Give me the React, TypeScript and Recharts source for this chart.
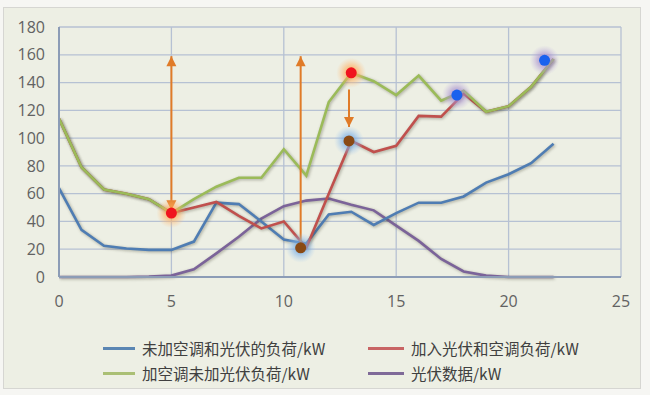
import React from "react";
import { ComposedChart, Line, Scatter, XAxis, YAxis, CartesianGrid, ReferenceLine } from "recharts";

// ---- data ----
const hours = [0, 1, 2, 3, 4, 5, 6, 7, 8, 9, 10, 11, 12, 13, 14, 15, 16, 17, 18, 19, 20, 21, 22];
const loadNoAcNoPv = [64, 34, 22.5, 20.5, 19.5, 19.5, 25.5, 53.5, 52.5, 40, 27, 24, 45, 47, 37.5, 46, 53.5, 53.5, 58, 68, 74, 82, 96];
const loadPvAc = [114, 79, 63, 60, 56, 46, 50, 54, 44, 35, 40, 21, 60, 98, 90, 94.5, 116, 115.5, 132, 119, 123, 137, 157];
const loadAcNoPv = [114, 79, 63, 60, 56, 46, 56, 65, 71.5, 71.5, 92, 73, 126, 147, 141, 131, 145, 127, 134, 119, 123, 137, 157];
const pvData = [0, 0, 0, 0, 0.3, 1, 5.5, 17, 29, 42, 51, 55, 56.5, 52, 48, 37, 26, 13, 4, 1, 0, 0, 0];

const seriesNames = ["未加空调和光伏的负荷/kW", "加入光伏和空调负荷/kW", "加空调未加光伏负荷/kW", "光伏数据/kW"];
const seriesKeys = ["a", "b", "c", "d"];
const seriesColors = ["#4F7DB3", "#C0504D", "#9BBB59", "#7B6399"];
const legendColors = ["#5B86B3", "#C86464", "#AABF74", "#7F6A98"];

const xTicks = [0, 5, 10, 15, 20, 25];
const yTicks = [0, 20, 40, 60, 80, 100, 120, 140, 160, 180];

// annotation markers
const redDotX = [5, 13];
const redDotY = [46, 147];
const brownDotX = [10.75, 12.9];
const brownDotY = [21, 98];
const blueDotX = [17.7, 21.6];
const blueDotY = [131, 156];

// annotation arrows
const arrowX = [5, 10.75, 12.9];
const arrowFrom = [48, 22, 135];
const arrowTo = [159, 159, 108];
const arrowStartHead = [true, false, false];

const rows = hours.map((h, i) => ({
  x: h,
  a: loadNoAcNoPv[i],
  b: loadPvAc[i],
  c: loadAcNoPv[i],
  d: pvData[i],
}));

const toPts = (xs: number[], ys: number[]) => xs.map((x, i) => ({ x, y: ys[i] }));

const ARROW = "#E07B28";

function head(tx: number, ty: number, fx: number, fy: number) {
  const dx = tx - fx;
  const dy = ty - fy;
  const len = Math.sqrt(dx * dx + dy * dy) || 1;
  const ux = dx / len;
  const uy = dy / len;
  const L = 10;
  const W = 5;
  const bx = tx - ux * L;
  const by = ty - uy * L;
  return `${tx},${ty} ${bx - uy * W},${by + ux * W} ${bx + uy * W},${by - ux * W}`;
}

const makeArrow = (startHead: boolean) => (p: any) => {
  const { x1, y1, x2, y2 } = p;
  return (
    <g>
      <line x1={x1} y1={y1} x2={x2} y2={y2} stroke={ARROW} strokeWidth={2} />
      <polygon points={head(x2, y2, x1, y1)} fill={ARROW} />
      {startHead ? <polygon points={head(x1, y1, x2, y2)} fill={ARROW} /> : null}
    </g>
  );
};

const makeDot = (fill: string, glowId: string) => (p: any) => {
  const { cx, cy } = p;
  if (cx == null || cy == null) return <g />;
  return (
    <g>
      <circle cx={cx} cy={cy} r={15} fill={`url(#${glowId})`} />
      <circle cx={cx} cy={cy} r={5.5} fill={fill} />
    </g>
  );
};

export default function App() {
  const order = [3, 0, 1, 2];
  return (
    <div style={{ position: "absolute", left: 0, top: 0, width: 650, height: 395, background: "#F6F6F3", overflow: "hidden" }}>
      <style>{`
        .soft path.recharts-curve { filter: drop-shadow(1.2px 1.6px 1.4px rgba(60,60,40,0.4)); }
      `}</style>
      <svg width={0} height={0} style={{ position: "absolute" }}>
        <defs>
          <radialGradient id="glowOrange">
            <stop offset="0%" stopColor="#FFA040" stopOpacity={0.95} />
            <stop offset="50%" stopColor="#FFB060" stopOpacity={0.55} />
            <stop offset="100%" stopColor="#FFC080" stopOpacity={0} />
          </radialGradient>
          <radialGradient id="glowBlue">
            <stop offset="0%" stopColor="#5A9BE0" stopOpacity={0.95} />
            <stop offset="50%" stopColor="#7FB2E8" stopOpacity={0.55} />
            <stop offset="100%" stopColor="#A0C8F0" stopOpacity={0} />
          </radialGradient>
          <radialGradient id="glowPurple">
            <stop offset="0%" stopColor="#9A80C8" stopOpacity={0.95} />
            <stop offset="50%" stopColor="#A890D0" stopOpacity={0.55} />
            <stop offset="100%" stopColor="#C0B0E0" stopOpacity={0} />
          </radialGradient>
        </defs>
      </svg>
      <div style={{ position: "absolute", left: 3, top: 7, width: 636, height: 380, border: "1px solid #D6D6D2", background: "#EDEFE4" }} />
      <div style={{ position: "absolute", left: 0, top: 0 }}>
        <ComposedChart width={650} height={395} data={rows} margin={{ top: 27, right: 29, left: 9, bottom: 88 }}>
          <CartesianGrid stroke="#B6C1D3" strokeWidth={1.3} />
          <XAxis
            type="number"
            dataKey="x"
            domain={[0, 25]}
            ticks={xTicks}
            interval={0}
            height={30}
            tickLine={false}
            tickSize={0}
            tickMargin={19}
            axisLine={{ stroke: "#8C9CB6", strokeWidth: 2 }}
            tick={{ fill: "#626262", fontSize: 16, fontFamily: "Open Sans" }}
            allowDataOverflow
          />
          <YAxis
            type="number"
            domain={[0, 180]}
            ticks={yTicks}
            interval={0}
            width={50}
            tickLine={false}
            tickSize={0}
            tickMargin={14}
            axisLine={{ stroke: "#8C9CB6", strokeWidth: 2 }}
            tick={{ fill: "#626262", fontSize: 16, fontFamily: "Open Sans" }}
          />
          {order.map((i) => (
            <Line
              key={seriesKeys[i]}
              className="soft"
              type="linear"
              dataKey={seriesKeys[i]}
              name={seriesNames[i]}
              stroke={seriesColors[i]}
              strokeWidth={2.6}
              dot={false}
              activeDot={false}
              isAnimationActive={false}
            />
          ))}
          {arrowX.map((ax, i) => (
            <ReferenceLine
              key={`arrow${i}`}
              segment={[
                { x: ax, y: arrowFrom[i] },
                { x: ax, y: arrowTo[i] },
              ]}
              shape={makeArrow(arrowStartHead[i])}
            />
          ))}
          <Scatter data={toPts(redDotX, redDotY)} dataKey="y" isAnimationActive={false} shape={makeDot("#F0141E", "glowOrange")} />
          <Scatter data={toPts(brownDotX, brownDotY)} dataKey="y" isAnimationActive={false} shape={makeDot("#8A4A14", "glowBlue")} />
          <Scatter data={toPts(blueDotX, blueDotY)} dataKey="y" isAnimationActive={false} shape={makeDot("#1A62EE", "glowPurple")} />
        </ComposedChart>
      </div>
      {[0, 1, 2, 3].map((i) => {
        const col = i % 2;
        const row = Math.floor(i / 2);
        const left = col === 0 ? 103 : 368;
        const top = row === 0 ? 337 : 362;
        return (
          <div
            key={`lg${i}`}
            style={{
              position: "absolute",
              left,
              top,
              height: 22,
              display: "flex",
              alignItems: "center",
              fontFamily: "'Noto Sans CJK SC', 'Noto Sans', sans-serif",
              fontSize: 15.5,
              color: "#404040",
              whiteSpace: "nowrap",
            }}
          >
            <span style={{ display: "inline-block", width: col === 0 ? 32 : 36, height: 3, background: legendColors[i], marginRight: 7 }} />
            <span>{seriesNames[i]}</span>
          </div>
        );
      })}
    </div>
  );
}
